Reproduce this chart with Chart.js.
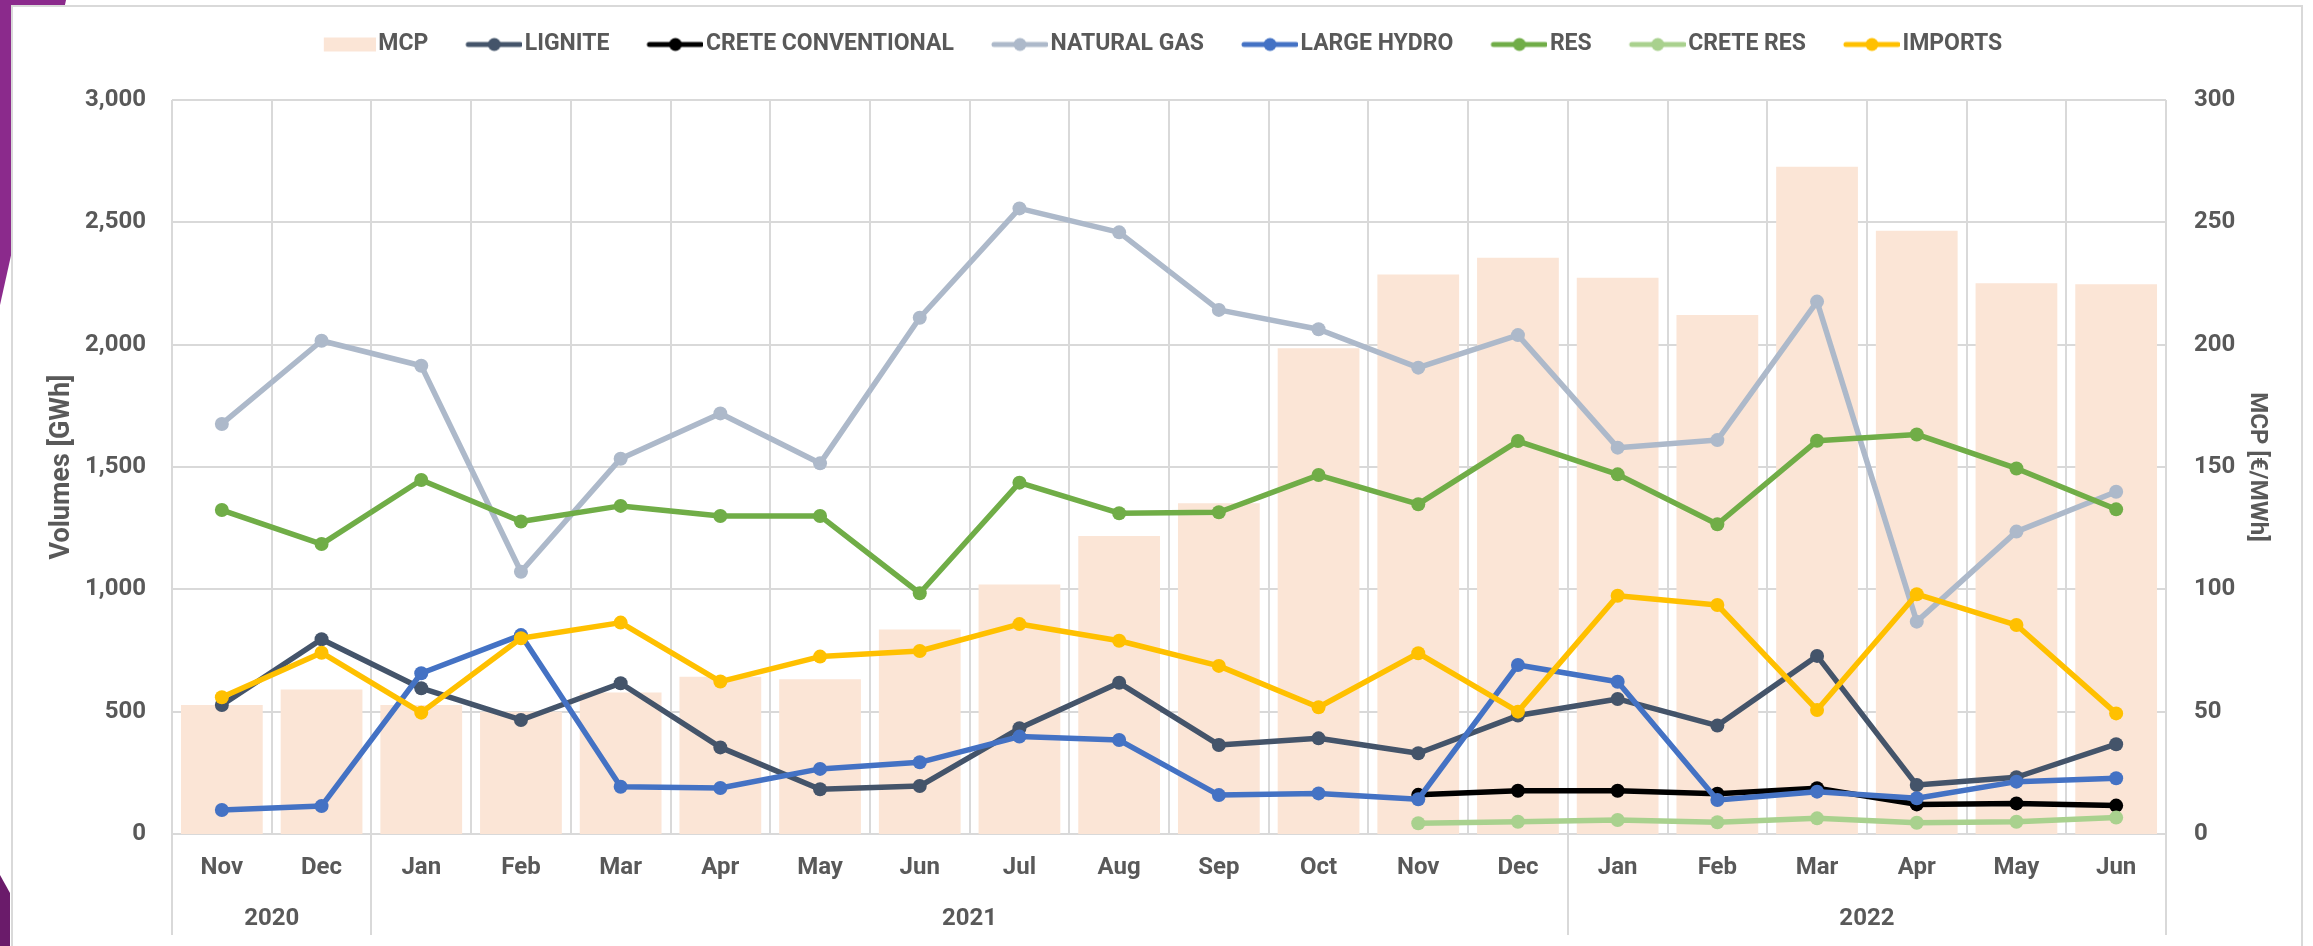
<!DOCTYPE html>
<html>
<head>
<meta charset="utf-8">
<script src="https://cdn.jsdelivr.net/npm/chart.js@4.4.1/dist/chart.umd.min.js"></script>
<style>
html,body{margin:0;padding:0;background:#fff;overflow:hidden}
#stage{position:relative;width:2313px;height:946px;overflow:hidden;background:#fff}
.purple1{position:absolute;left:0;top:0;width:70px;height:310px;background:#8B2A8C;clip-path:polygon(0 0,66px 0,10px 260px,0 305px)}
.purple2{position:absolute;left:0;top:875px;width:12px;height:71px;background:#6A1B6A;clip-path:polygon(0 0,10px 18px,10px 71px,0 71px)}
#card{position:absolute;left:11px;top:5px;width:2292px;height:1000px;border:2px solid #D9D9D9;background:#fff;box-sizing:border-box}
#wrap{position:absolute;left:0;top:0;width:2313px;height:946px}
</style>
</head>
<body>
<div id="stage">
  <div class="purple1"></div>
  <div class="purple2"></div>
  <div id="card"></div>
  <div id="wrap"><canvas id="c"></canvas></div>
</div>
<script>
// ---------- data ----------
const months = ['Nov','Dec','Jan','Feb','Mar','Apr','May','Jun','Jul','Aug','Sep','Oct','Nov','Dec','Jan','Feb','Mar','Apr','May','Jun'];
const monthYears = [2020,2020,2021,2021,2021,2021,2021,2021,2021,2021,2021,2021,2021,2021,2022,2022,2022,2022,2022,2022];
const mcp = [52.7,59.1,52.7,50,57.8,64.3,63.2,83.6,102,121.8,135.2,198.5,228.7,235.5,227.4,212.1,272.7,246.6,225.1,224.7];
const lignite = [527,796,596,466,616,354,183,196,432,618,364,391,330,484,552,443,728,200,232,367];
const creteConventional = [null,null,null,null,null,null,null,null,null,null,null,null,160,177,177,165,187,121,125,116];
const naturalGas = [1676,2016,1914,1072,1534,1719,1515,2110,2557,2459,2142,2063,1906,2039,1579,1610,2176,868,1236,1399];
const largeHydro = [98,114,657,813,193,188,266,293,398,384,159,166,142,691,622,139,173,146,214,228];
const res = [1324,1185,1447,1277,1341,1300,1300,984,1436,1311,1315,1467,1348,1606,1470,1266,1607,1633,1494,1327];
const creteRes = [null,null,null,null,null,null,null,null,null,null,null,null,44,50,57,48,64,46,50,67];
const imports = [559,741,496,800,864,623,725,748,858,790,687,518,739,500,974,936,507,980,854,493];
const volumeTicks = {min:0, max:3000, step:500};
const priceTicks = {min:0, max:300, step:50};

// ---------- year groups derived from monthYears ----------
const yearText = [], yearCenters = [], yearBounds = [0];
(function(){
  let start = 0;
  for (let i = 1; i <= monthYears.length; i++) {
    if (i === monthYears.length || monthYears[i] !== monthYears[start]) {
      yearText.push(String(monthYears[start]));
      yearCenters.push((start + i) / 2);
      yearBounds.push(i);
      start = i;
    }
  }
})();

const TXT = '#595959', GRID = '#D9D9D9';
const FONT = "Roboto, 'Liberation Sans', sans-serif";
const TICK_FONT = {family:FONT, size:24, weight:'bold'};
const TITLE_FONT = {family:FONT, size:27, weight:'bold'};
const TITLE_FONT_R = {family:FONT, size:24, weight:'bold'};

function lineMarker(color){
  const c = document.createElement('canvas'); c.width = 93; c.height = 16;
  const g = c.getContext('2d');
  g.strokeStyle = color; g.lineWidth = 5; g.lineCap = 'round';
  g.beginPath(); g.moveTo(39,8); g.lineTo(91,8); g.stroke();
  g.fillStyle = color; g.beginPath(); g.arc(65,8,6.5,0,Math.PI*2); g.fill();
  return c;
}
function boxMarker(color){
  const c = document.createElement('canvas'); c.width = 93; c.height = 16;
  const g = c.getContext('2d');
  g.fillStyle = color; g.fillRect(41,1,52,14);
  return c;
}

function lineDs(label, data, color, order){
  return {type:'line', label, data, yAxisID:'y', xAxisID:'x', order,
    borderColor:color, backgroundColor:color, borderWidth:5.5,
    pointRadius:7, pointHoverRadius:7, pointBorderWidth:0, pointBackgroundColor:color,
    borderJoinStyle:'round', borderCapStyle:'round', tension:0, spanGaps:false, fill:false,
    legendMarker: lineMarker(color)};
}

const datasets = [
  {type:'bar', label:'MCP', data:mcp, yAxisID:'y1', xAxisID:'x', order:10,
   backgroundColor:'#FBE5D6', borderWidth:0, barPercentage:0.82, categoryPercentage:1.0,
   legendMarker: boxMarker('#FBE5D6')},
  lineDs('LIGNITE', lignite, '#44546A', 7),
  lineDs('CRETE CONVENTIONAL', creteConventional, '#000000', 6),
  lineDs('NATURAL GAS', naturalGas, '#ADB9CA', 5),
  lineDs('LARGE HYDRO', largeHydro, '#4472C4', 4),
  lineDs('RES', res, '#70AD47', 3),
  lineDs('CRETE RES', creteRes, '#A9D18E', 2),
  lineDs('IMPORTS', imports, '#FFC000', 1)
];

const legendSpacer = {
  id:'legendSpacer',
  beforeUpdate(chart){
    const lg = chart.legend;
    if (lg && !lg._spaced) {
      const orig = lg.fit;
      lg.fit = function(){ orig.call(this); this.height = 77; };
      lg._spaced = true;
    }
  }
};

const yearSeparators = {
  id:'yearSeparators',
  afterDraw(chart){
    const s = chart.scales.x2, ctx = chart.ctx;
    const top = chart.chartArea.bottom;
    ctx.save();
    ctx.strokeStyle = GRID; ctx.lineWidth = 2;
    yearBounds.forEach(v => {
      const px = Math.round(s.getPixelForValue(v));
      ctx.beginPath(); ctx.moveTo(px, top); ctx.lineTo(px, 935); ctx.stroke();
    });
    ctx.restore();
  }
};

new Chart(document.getElementById('c'), {
  type:'bar',
  data:{labels:months, datasets},
  plugins:[legendSpacer, yearSeparators],
  options:{
    responsive:true, maintainAspectRatio:false, animation:false,
    layout:{padding:{top:23, left:23, right:42, bottom:0}},
    plugins:{
      tooltip:{enabled:false},
      legend:{
        position:'top', align:'center',
        labels:{
          usePointStyle:true, pointStyleWidth:75, padding:10,
          font:{family:FONT, size:23, weight:'bold'}, color:TXT,
          generateLabels(chart){
            return chart.data.datasets.map((ds,i)=>({
              text:ds.label, pointStyle:ds.legendMarker, fillStyle:'rgba(0,0,0,0)',
              strokeStyle:'rgba(0,0,0,0)', lineWidth:0, hidden:false, datasetIndex:i, fontColor:TXT
            }));
          }
        }
      }
    },
    scales:{
      x:{
        type:'category', position:'bottom', offset:true, weight:0,
        grid:{display:true, offset:true, color:GRID, lineWidth:2, drawTicks:false},
        border:{display:true, color:GRID, width:2},
        ticks:{font:TICK_FONT, color:TXT, padding:20, maxRotation:0, autoSkip:false},
        afterFit(s){ s.height = 60; }
      },
      x2:{
        type:'linear', position:'bottom', weight:1, min:0, max:months.length, offset:false,
        grid:{display:false, drawTicks:false, offset:false}, border:{display:false},
        afterBuildTicks(s){ s.ticks = yearCenters.map(v=>({value:v})); },
        ticks:{font:TICK_FONT, color:TXT, padding:11, maxRotation:0, autoSkip:false,
          callback:(v,i)=>yearText[i]},
        afterFit(s){ s.height = 52; }
      },
      y:{
        position:'left', min:volumeTicks.min, max:volumeTicks.max,
        ticks:{stepSize:volumeTicks.step, padding:26, font:TICK_FONT, color:TXT,
          callback:v=>v.toLocaleString('en-US')},
        grid:{color:GRID, lineWidth:2, drawTicks:false},
        border:{display:false},
        title:{display:true, text:'Volumes [GWh]', font:TITLE_FONT, color:TXT, padding:{top:23,bottom:0}},
        afterFit(s){ s.width = 149; }
      },
      y1:{
        position:'right', min:priceTicks.min, max:priceTicks.max,
        ticks:{stepSize:priceTicks.step, padding:28, font:TICK_FONT, color:TXT},
        grid:{display:false, drawTicks:false},
        border:{display:false},
        title:{display:true, text:'MCP [€/MWh]', font:TITLE_FONT_R, color:TXT, padding:{top:0,bottom:0}},
        afterFit(s){ s.width = 105; }
      }
    }
  }
});
</script>
</body>
</html>
